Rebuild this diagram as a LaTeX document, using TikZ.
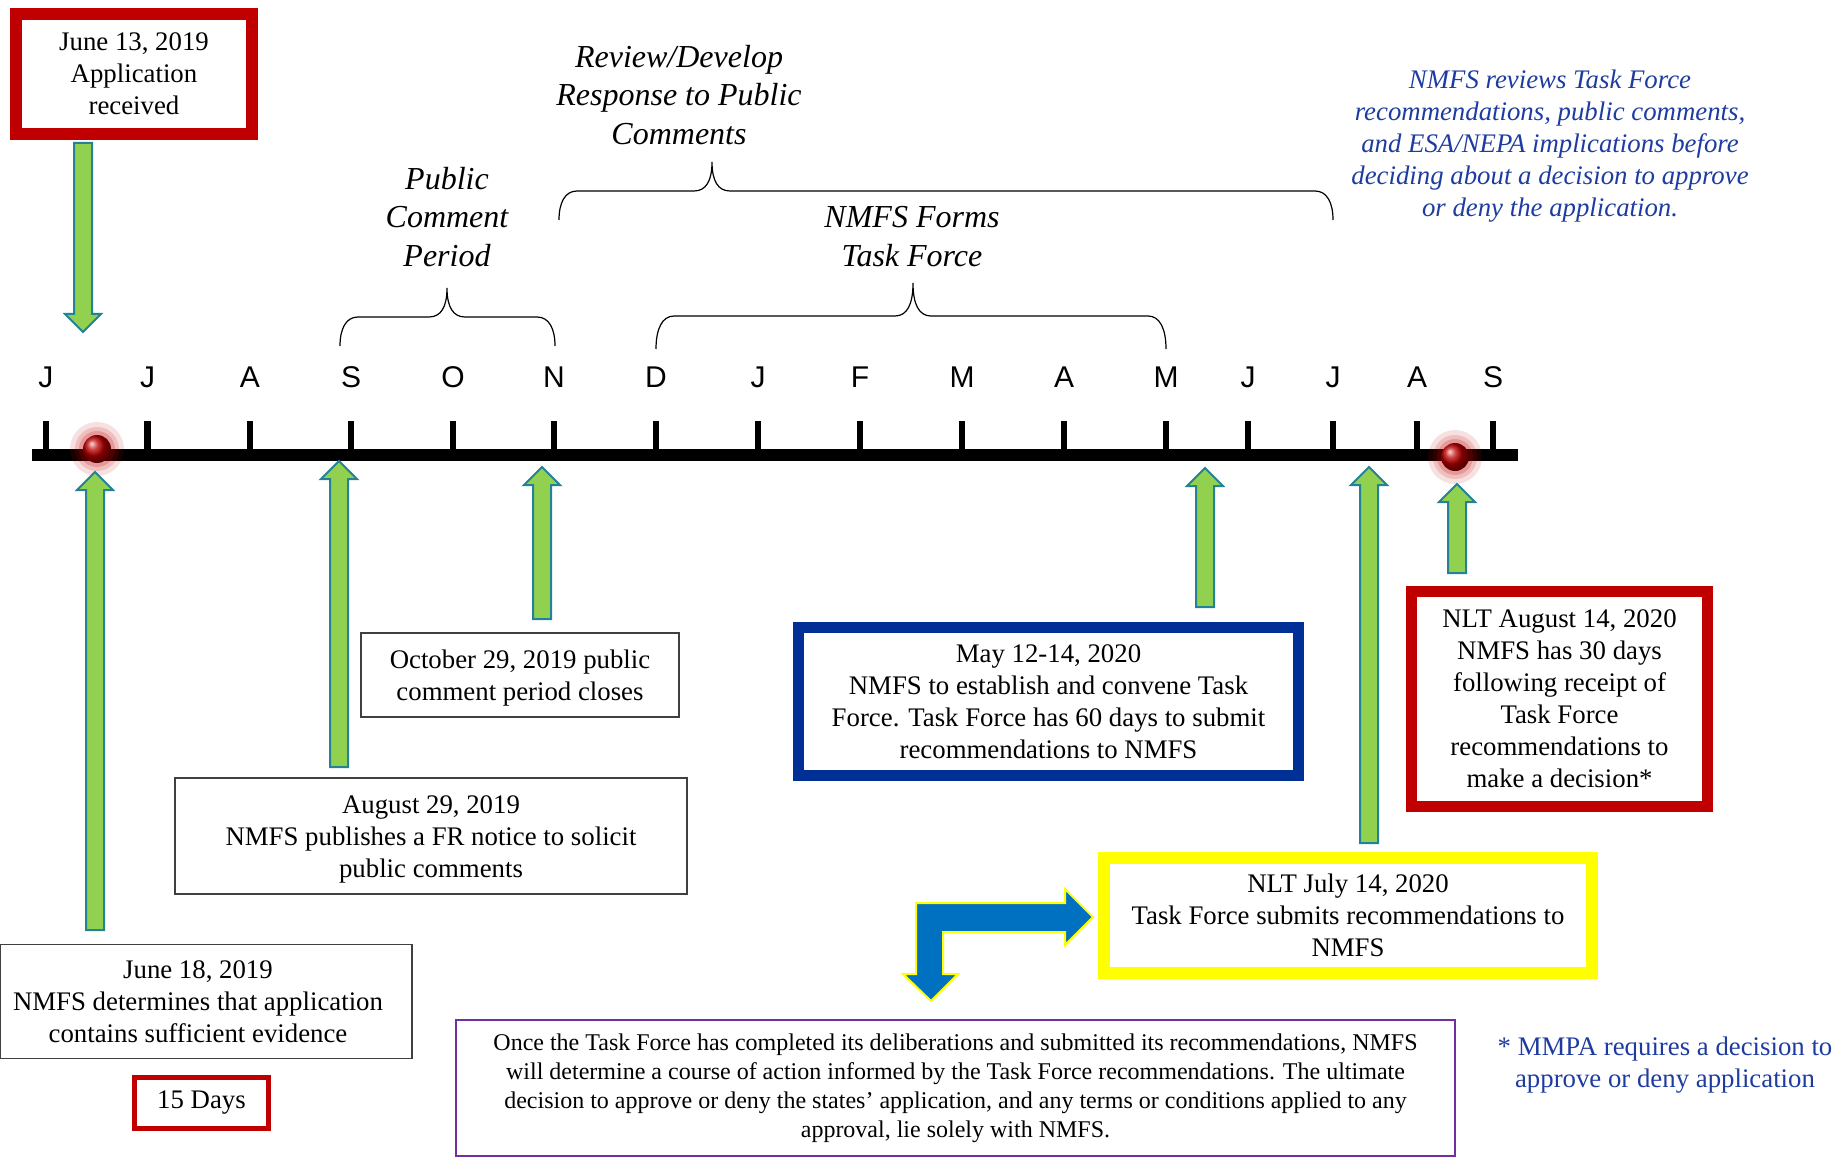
\documentclass[tikz,border=0pt]{standalone}
\usepackage{fontspec}
\setmainfont{Liberation Serif}
\newfontfamily\monthfont{Liberation Sans}
\usetikzlibrary{calc}

\definecolor{boxred}{RGB}{192,0,0}
\definecolor{boxblue}{RGB}{0,48,150}
\definecolor{boxyellow}{RGB}{255,255,0}
\definecolor{boxpurple}{RGB}{112,48,160}
\definecolor{arrgreen}{RGB}{146,208,80}
\definecolor{arrteal}{RGB}{35,130,150}
\definecolor{arrblue}{RGB}{0,112,192}
\definecolor{noteblue}{RGB}{30,60,160}

\tikzset{
  datetext/.style={align=center, inner sep=0pt, font=\fontsize{13.4}{16}\selectfont},
  datebox/.style={draw, datetext},
  thinbox/.style={datebox, draw=black!75, line width=0.7pt},
  redbox/.style={datebox, draw=boxred, line width=6pt},
  labeltext/.style={align=center, inner sep=0pt, font=\fontsize{16}{19.3}\selectfont\itshape},
  notetext/.style={align=center, inner sep=0pt, text=noteblue, font=\fontsize{13.4}{16}\selectfont},
  monthlabel/.style={inner sep=0pt, font=\monthfont\fontsize{15}{18}\selectfont},
  axisline/.style={line width=5.75pt},
  tickline/.style={line width=3.25pt},
  bracestyle/.style={line width=0.6pt},
  greenarrow/.style={fill=arrgreen, draw=arrteal, line width=1pt, line join=miter},
  bluearrow/.style={fill=arrblue, draw=boxyellow, line width=1pt}
}

% block arrow from tip #1 back to base #2
\newcommand\garrow[2]{%
  \coordinate (hb) at ($(#1)!9pt!(#2)$);
  \filldraw[greenarrow] ($(#2)!4.5pt!90:(#1)$) -- ($(hb)!4.5pt!90:(#1)$)
    -- ($(hb)!9pt!90:(#1)$) -- (#1) -- ($(hb)!9pt!-90:(#1)$)
    -- ($(hb)!4.5pt!-90:(#1)$) -- ($(#2)!4.5pt!-90:(#1)$) -- cycle;
}

% curly brace, tip up: x left, x tip, x right, y of the ends, rise
\newcommand\timebrace[5]{%
  \draw[bracestyle] (#1,#4) .. controls (#1,#4-0.6*#5) and (#1+6,#4-#5) .. (#1+18,#4-#5)
    -- (#2-18,#4-#5) .. controls (#2-6,#4-#5) and (#2,#4-1.35*#5) .. (#2,#4-2*#5)
    .. controls (#2,#4-1.35*#5) and (#2+6,#4-#5) .. (#2+18,#4-#5)
    -- (#3-18,#4-#5) .. controls (#3-6,#4-#5) and (#3,#4-0.6*#5) .. (#3,#4);
}

\begin{document}
\begin{tikzpicture}[x=0.5pt, y=-0.5pt]
  \useasboundingbox (0,0) rectangle (1845,1160);

  % timeline
  \draw[axisline] (32,455) -- (1518,455);
  \foreach \mx/\ml [count=\i] in {46/J,147.5/J,250/A,351/S,453/O,554/N,656/D,758/J,860/F,962/M,1064/A,1166/M,1248/J,1333/J,1417/A,1493/S} {
    \draw[tickline] (\mx,421) -- (\mx,455);
    \node[monthlabel] (m\i) at (\mx,377) {\ml};
  }

  % red dots
  \coordinate (dot1) at (97,449);
  \coordinate (dot2) at (1455,457);
  \foreach \d in {dot1,dot2} {
    \fill[boxred, opacity=0.12] (\d) circle (27);
    \fill[boxred, opacity=0.15] (\d) circle (22);
    \fill[boxred, opacity=0.2] (\d) circle (18);
    \shade[ball color=boxred] (\d) circle (14);
  }

  % braces and their labels
  \timebrace{340}{447}{555}{346}{29}
  \timebrace{656}{913}{1166}{349}{33}
  \timebrace{559}{712}{1333}{220}{29}
  \node[labeltext] (pcp) at (447,217) {Public\\Comment\\Period};
  \node[labeltext] (review) at (679,95) {Review/Develop\\Response to Public\\Comments};
  \node[labeltext] (forms) at (912,236.5) {NMFS Forms\\Task Force};
  \node[notetext, font=\fontsize{13.4}{16}\selectfont\itshape] (revnote) at (1550,146)
    {NMFS reviews Task Force\\recommendations, public comments,\\and ESA/NEPA implications before\\deciding about a decision to approve\\or deny the application.};

  % boxes
  \node[redbox, minimum width=118pt, minimum height=60pt] (jun13) at (134,74)
    {June 13, 2019\\Application\\received};
  \node[thinbox, minimum width=206pt, minimum height=57pt,
        label={[datetext, xshift=-4pt]center:{June 18, 2019\\NMFS determines that application\\contains sufficient evidence}}]
    (jun18) at (206,1001.5) {};
  \node[datebox, draw=boxred, line width=2.5pt, minimum width=67pt, minimum height=25.5pt] (days) at (201.5,1103)
    {15 Days};
  \node[thinbox, minimum width=256pt, minimum height=58pt,
        label={[datetext, yshift=-1.5pt]center:{August 29, 2019\\NMFS publishes a FR notice to solicit\\public comments}}]
    (aug29) at (431,836) {};
  \node[thinbox, minimum width=159pt, minimum height=42pt,
        label={[datetext, yshift=-1.5pt]center:{October 29, 2019 public\\comment period closes}}]
    (oct29) at (520,675) {};
  \node[datebox, draw=boxblue, line width=5.5pt, minimum width=250pt, minimum height=74pt] (may) at (1048.5,701.5)
    {May 12-14, 2020\\NMFS to establish and convene Task\\Force. Task Force has 60 days to submit\\recommendations to NMFS};
  \node[redbox, line width=5.5pt, minimum width=148pt, minimum height=107.5pt] (augnlt) at (1559.5,699)
    {NLT August 14, 2020\\NMFS has 30 days\\following receipt of\\Task Force\\recommendations to\\make a decision*};
  \node[datebox, draw=boxyellow, line width=6pt, minimum width=244pt, minimum height=57.5pt] (julnlt) at (1348,915.5)
    {NLT July 14, 2020\\Task Force submits recommendations to\\NMFS};
  \node[datebox, draw=boxpurple, line width=1pt, minimum width=499.5pt, minimum height=68pt,
        font=\fontsize{12}{14.5}\selectfont] (final) at (955.5,1088)
    {Once the Task Force has completed its deliberations and submitted its recommendations, NMFS\\
     will determine a course of action informed by the Task Force recommendations. The ultimate\\
     decision to approve or deny the states’ application, and any terms or conditions applied to any\\
     approval, lie solely with NMFS.};
  \node[notetext] (mmpa) at (1665,1065) {* MMPA requires a decision to\\approve or deny application};

  % green arrows
  \coordinate (t0) at (83,332);    \coordinate (b0) at (83,143);
  \coordinate (t1) at (95,472);    \coordinate (b1) at (95,930);
  \coordinate (t2) at (339,461);   \coordinate (b2) at (339,767);
  \coordinate (t3) at (542,467);   \coordinate (b3) at (542,619);
  \coordinate (t4) at (1205,468);  \coordinate (b4) at (1205,607);
  \coordinate (t5) at (1369,467);  \coordinate (b5) at (1369,843);
  \coordinate (t6) at (1457,484);  \coordinate (b6) at (1457,573);
  \foreach \k in {0,...,6} {\garrow{t\k}{b\k}}

  % bent arrow
  \filldraw[bluearrow] (916,903) -- (1065,903) -- (1065,889) -- (1093,917) -- (1065,945)
    -- (1065,932) -- (943,932) -- (943,974) -- (958,974) -- (931,1001) -- (903,974)
    -- (916,974) -- cycle;
\end{tikzpicture}
\end{document}
